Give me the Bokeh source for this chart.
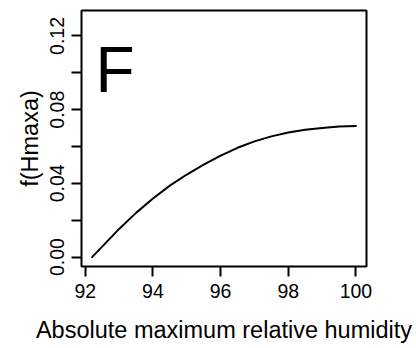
import math
from bokeh.plotting import figure
from bokeh.models import Range1d, FixedTicker, Label
from bokeh.embed import file_html
from bokeh.resources import INLINE

# Data
hmax = [92.2, 92.5, 93.0, 93.5, 94.0, 94.5, 95.0, 95.5, 96.0, 96.5,
        97.0, 97.5, 98.0, 98.5, 99.0, 99.5, 100.0]
f_hmaxa = [0.0, 0.0057, 0.0153, 0.0240, 0.0318, 0.0388, 0.0448, 0.0502,
           0.0551, 0.0593, 0.0628, 0.0655, 0.0676, 0.0691, 0.0701, 0.0708, 0.0711]

x_ticks = [92, 94, 96, 98, 100]
x_tick_labels = ["92", "94", "96", "98", "100"]
y_ticks = [0.0, 0.02, 0.04, 0.06, 0.08, 0.10, 0.12]
y_tick_labels = ["0.00", "", "0.04", "", "0.08", "", "0.12"]

x_title = "Absolute maximum relative humidity"
y_title = "f(Hmaxa)"
panel_letter = "F"

FONT = "Liberation Sans"

p = figure(width=416, height=348, output_backend="svg", toolbar_location=None,
           x_range=Range1d(91.888, 100.312), y_range=Range1d(-0.0051, 0.1338),
           min_border_left=81, min_border_right=50, min_border_top=10,
           min_border_bottom=82)

p.background_fill_color = "white"
p.border_fill_color = "white"
p.outline_line_color = "black"
p.outline_line_width = 2
p.xgrid.visible = False
p.ygrid.visible = False

p.line(hmax, f_hmaxa, line_color="black", line_width=2, line_cap="round")

p.add_layout(Label(x=92.3, y=0.1017, text=panel_letter, text_font=FONT,
                   text_font_size="64px", text_color="black",
                   text_baseline="alphabetic", text_align="left"))

for ax in (p.xaxis[0], p.yaxis[0]):
    ax.axis_line_color = None
    ax.major_tick_line_color = "black"
    ax.major_tick_line_width = 2
    ax.major_tick_out = 10
    ax.major_tick_in = 0
    ax.minor_tick_line_color = None
    ax.major_label_text_font = FONT
    ax.major_label_text_font_size = "19.5px"
    ax.major_label_text_color = "black"
    ax.axis_label_text_font = FONT
    ax.axis_label_text_font_size = "23.5px"
    ax.axis_label_text_font_style = "normal"
    ax.axis_label_text_color = "black"

p.xaxis[0].ticker = FixedTicker(ticks=x_ticks)
p.xaxis[0].major_label_overrides = dict(zip(x_ticks, x_tick_labels))
p.xaxis[0].major_label_standoff = 7
p.xaxis[0].axis_label = x_title
p.xaxis[0].axis_label_standoff = 16

p.yaxis[0].ticker = FixedTicker(ticks=y_ticks)
p.yaxis[0].major_label_overrides = dict(zip(y_ticks, y_tick_labels))
p.yaxis[0].major_label_orientation = "parallel"
p.yaxis[0].major_label_standoff = 7
p.yaxis[0].axis_label = y_title
p.yaxis[0].axis_label_standoff = 5

open("out.html", "w").write(file_html(p, INLINE))
